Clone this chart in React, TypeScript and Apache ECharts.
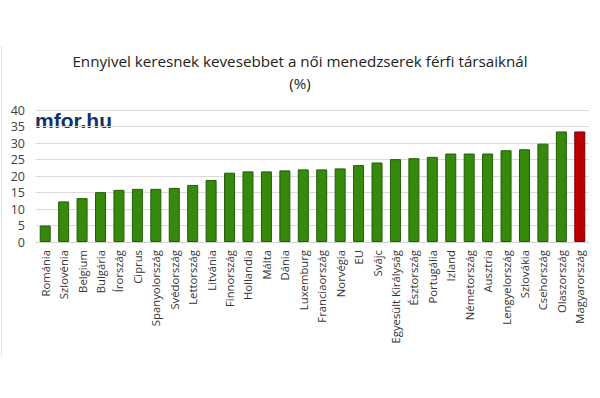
import React, { useEffect, useRef } from "react";
import * as echarts from "echarts";

const categories = [
  "Románia", "Szlovénia", "Belgium", "Bulgária", "Írország", "Ciprus",
  "Spanyolország", "Svédország", "Lettország", "Litvánia", "Finnország",
  "Hollandia", "Málta", "Dánia", "Luxemburg", "Franciaország", "Norvégia",
  "EU", "Svájc", "Egyesült Királyság", "Észtország", "Portugália", "Izland",
  "Németország", "Ausztria", "Lengyelország", "Szlovákia", "Csehország",
  "Olaszország", "Magyarország",
];
const values = [
  5.0, 12.3, 13.3, 15.1, 15.8, 16.1, 16.1, 16.4, 17.3, 18.8, 21.0, 21.4,
  21.4, 21.7, 22.0, 22.0, 22.3, 23.3, 24.1, 25.1, 25.4, 25.8, 26.8, 26.8,
  26.8, 27.8, 28.1, 29.8, 33.5, 33.5,
];
const highlighted = "Magyarország";
const yTicks = { min: 0, max: 40, interval: 5 };
const titleLines = [
  "Ennyivel keresnek kevesebbet a női menedzserek férfi társaiknál",
  "(%)",
];

export default function App() {
  const ref = useRef<HTMLDivElement>(null);
  useEffect(() => {
    document.body.style.margin = "0";
    if (!ref.current) return;
    const chart = echarts.init(ref.current, null, { renderer: "svg" });
    const font = "'Open Sans', 'Noto Sans', sans-serif";
    chart.setOption({
      animation: false,
      backgroundColor: "#ffffff",
      title: {
        text: titleLines.join("\n"),
        left: "center",
        top: 45,
        textStyle: {
          fontFamily: font,
          fontSize: 15.2,
          fontWeight: "normal",
          color: "#222222",
          lineHeight: 22,
        },
      },
      grid: { left: 36, right: 11, top: 110, bottom: 156, containLabel: false },
      xAxis: {
        type: "category",
        data: categories,
        axisTick: { show: false },
        axisLine: { lineStyle: { color: "#d0d0d0" } },
        axisLabel: {
          rotate: 90,
          interval: 0,
          margin: 8,
          fontFamily: font,
          fontSize: 11.3,
          color: "#333333",
        },
      },
      yAxis: {
        type: "value",
        min: yTicks.min,
        max: yTicks.max,
        interval: yTicks.interval,
        axisLine: { show: false },
        axisTick: { show: false },
        splitLine: { lineStyle: { color: "#dadada", width: 1 } },
        axisLabel: {
          fontFamily: font,
          fontSize: 12.5,
          color: "#404040",
          margin: 11,
        },
      },
      graphic: [
        {
          type: "line",
          shape: { x1: 1.5, y1: 46, x2: 1.5, y2: 356 },
          style: { stroke: "#e2e2e2", lineWidth: 1 },
        },
        {
          type: "text",
          left: 35,
          top: 110,
          style: {
            text: "mfor.hu",
            fontFamily: "'Liberation Sans', Arial, sans-serif",
            fontWeight: "bold",
            fontSize: 21,
            fill: "#12306b",
          },
        },
      ],
      series: [
        {
          type: "bar",
          barWidth: 11,
          data: values.map((v, i) => ({
            value: v,
            itemStyle:
              categories[i] === highlighted
                ? { color: "#bb0000", borderColor: "#7a0000", borderWidth: 1 }
                : { color: "#368a0b", borderColor: "#235c07", borderWidth: 1 },
          })),
        },
      ],
    });
    return () => chart.dispose();
  }, []);
  return <div ref={ref} style={{ width: 600, height: 398 }} />;
}
